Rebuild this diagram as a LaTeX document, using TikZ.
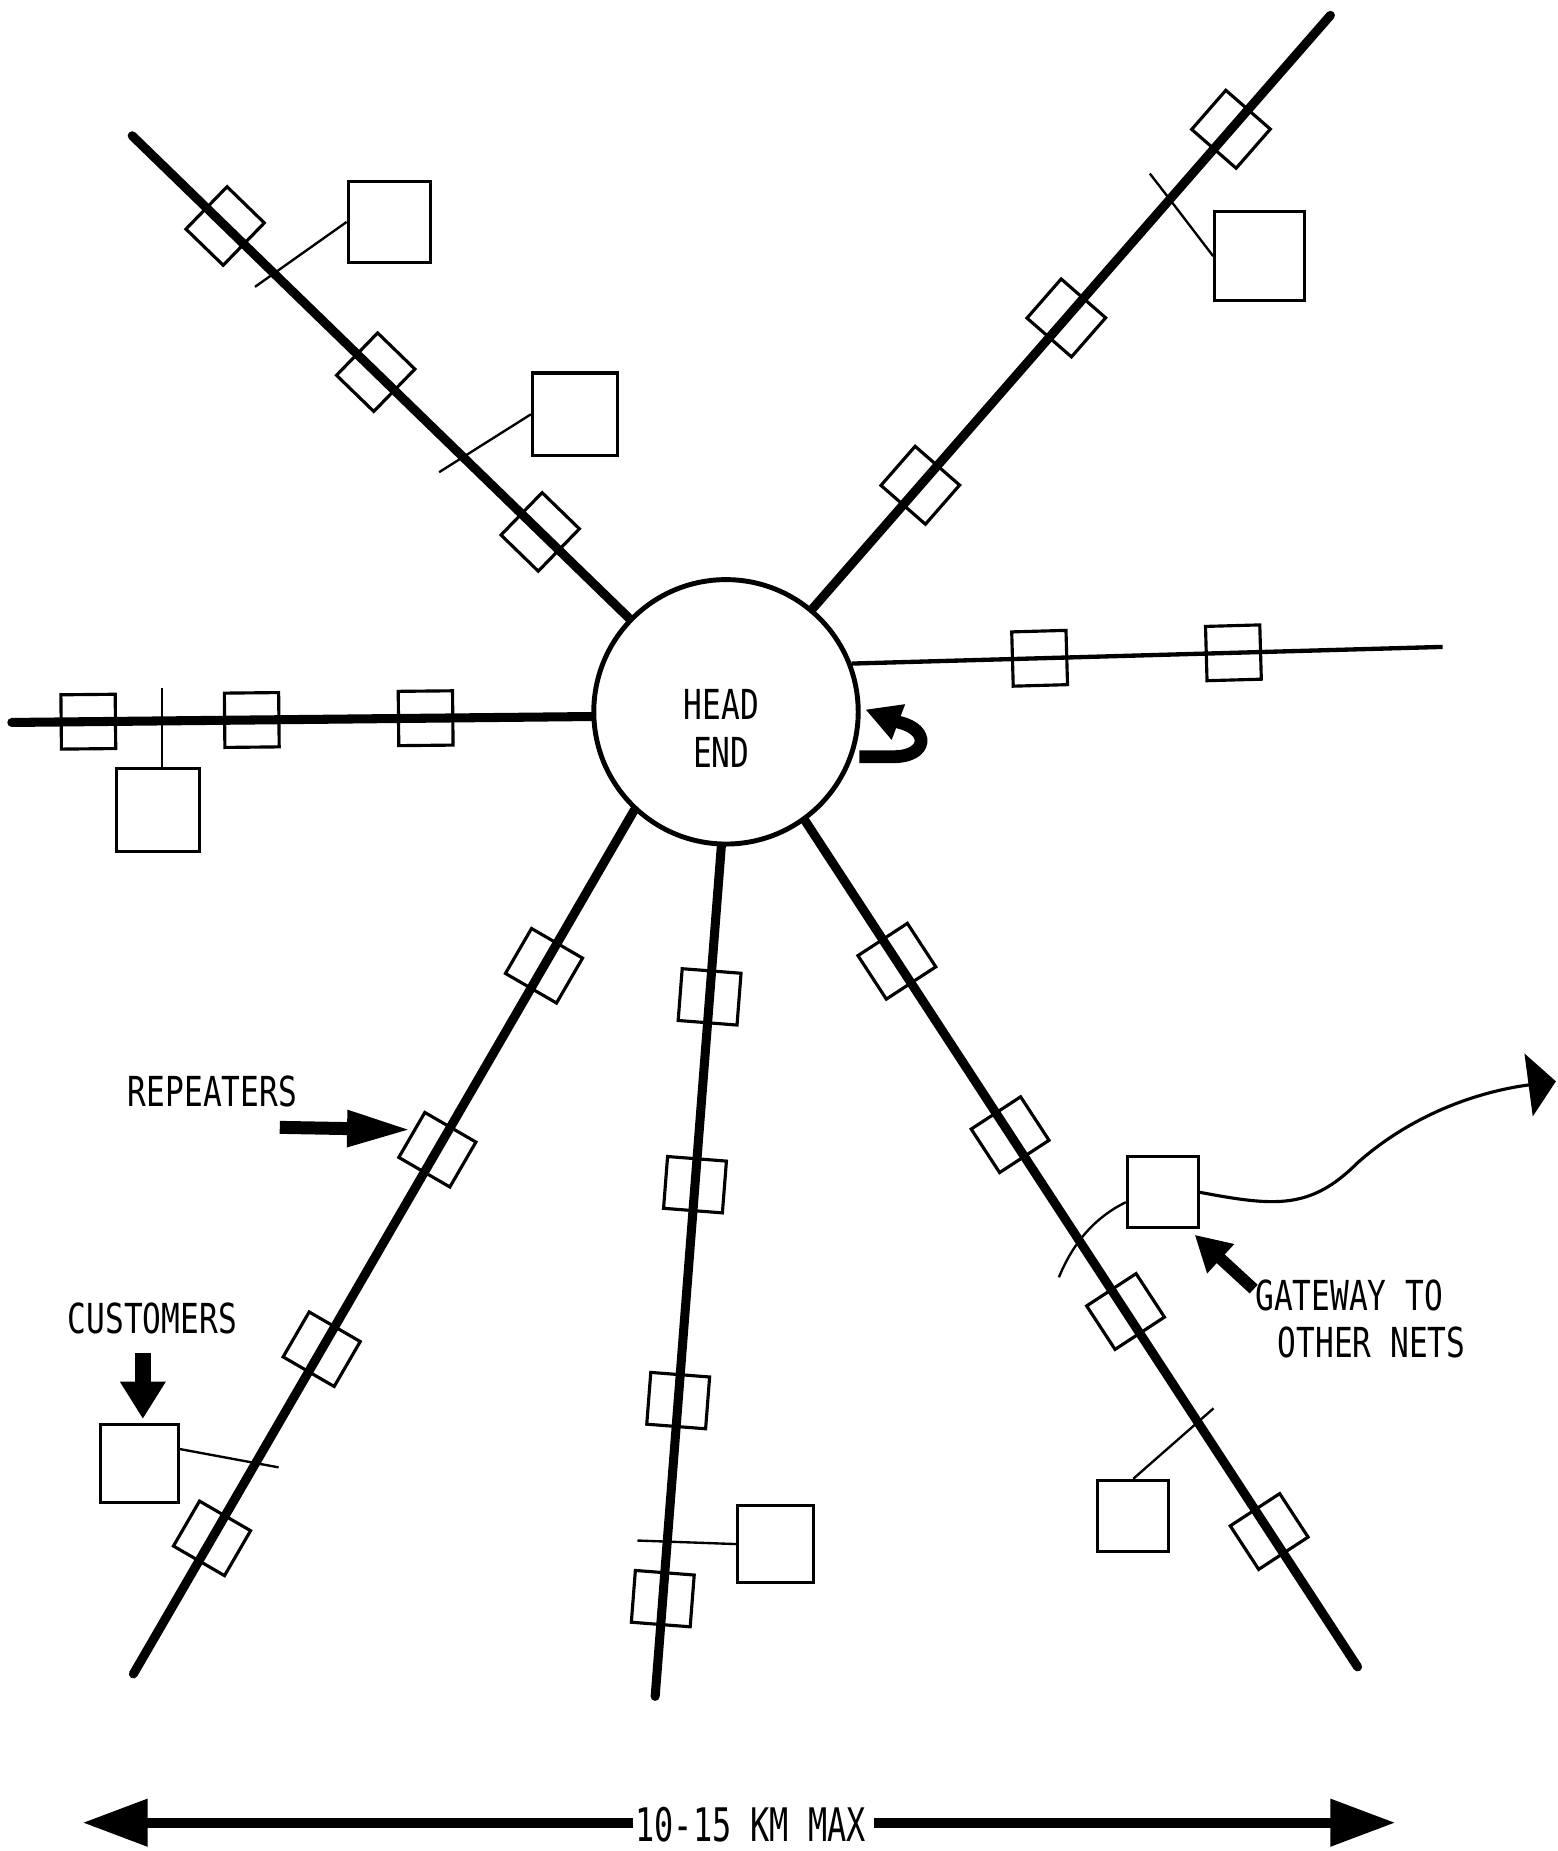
\documentclass[tikz,border=0pt]{standalone}
\usepackage{fontspec}
\usetikzlibrary{arrows.meta,calc}
\newfontfamily\lblfont[FakeStretch=0.755]{DejaVu Sans Mono}
\newfontfamily\bigfont[FakeStretch=0.69]{DejaVu Sans Mono}
\begin{document}
\begin{tikzpicture}[x=0.6pt,y=-0.6pt,
  spoke/.style={line width=4.6pt,line cap=round},
  thinspoke/.style={line width=2.2pt},
  rep/.style={draw,line width=1.6pt,rectangle,minimum width=26.4pt,minimum height=30pt,inner sep=0pt,sloped},
  hrep/.style={draw,line width=1.6pt,rectangle,minimum width=27.6pt,minimum height=27.6pt,inner sep=0pt,sloped},
  cust/.style={draw,line width=1.6pt,rectangle,inner sep=0pt},
  drop/.style={line width=1.2pt},
  lbl/.style={font=\lblfont\fontsize{21}{24.6}\selectfont,inner sep=0pt},
  kmlbl/.style={font=\bigfont\fontsize{23.5}{28}\selectfont,inner sep=0pt}
]
\useasboundingbox (0,0) rectangle (1319,1568);

% head end
\node[circle,draw,line width=2.5pt,minimum size=134.4pt,inner sep=0pt] (head) at (615,603) {};
\node[lbl,align=center] (headtxt) at (611,617) {HEAD\\END};

% outer ends of spokes
\coordinate (sUL) at (112,115);
\coordinate (sUR) at (1127,13);
\coordinate (sR) at (1222,548);
\coordinate (sL) at (10,612);
\coordinate (sLL) at (113,1418);
\coordinate (sB) at (555,1437);
\coordinate (sLR) at (1150,1412);

% spokes with repeaters
\draw[spoke] (head.136) -- (sUL)
  node[rep,pos=0.179] (r11) {}
  node[rep,pos=0.51] (r12) {}
  node[rep,pos=0.813] (r13) {};
\draw[spoke] (head.50) -- (sUR)
  node[rep,pos=0.208] (r21) {}
  node[rep,pos=0.49] (r22) {}
  node[rep,pos=0.808] (r23) {};
\draw[thinspoke] (head.21) -- (sR)
  node[hrep,pos=0.318] (r31) {}
  node[hrep,pos=0.646] (r32) {};
\draw[spoke] (head.182) -- (sL)
  node[hrep,pos=0.286] (r41) {}
  node[hrep,pos=0.586] (r42) {}
  node[hrep,pos=0.868] (r43) {};
\draw[spoke] (head.227) -- (sLL)
  node[rep,pos=0.18] (r51) {}
  node[rep,pos=0.393] (r52) {}
  node[rep,pos=0.624] (r53) {}
  node[rep,pos=0.843] (r54) {};
\draw[spoke] (head.268) -- (sB)
  node[rep,pos=0.177] (r61) {}
  node[rep,pos=0.398] (r62) {}
  node[rep,pos=0.652] (r63) {}
  node[rep,pos=0.885] (r64) {};
\draw[spoke] (head.306) -- (sLR)
  node[rep,pos=0.166] (r71) {}
  node[rep,pos=0.371] (r72) {}
  node[rep,pos=0.58] (r73) {}
  node[rep,pos=0.84] (r74) {};

% customer boxes
\node[cust,minimum width=42pt,minimum height=41.4pt] (c1) at (330,188) {};
\node[cust,minimum width=43.2pt,minimum height=42pt] (c2) at (487,351) {};
\node[cust,minimum width=45.6pt,minimum height=45pt] (c3) at (1067,217) {};
\node[cust,minimum width=42pt,minimum height=42pt] (c4) at (134,686) {};
\node[cust,minimum width=39.6pt,minimum height=39.6pt] (c5) at (118,1240) {};
\node[cust,minimum width=38.4pt,minimum height=39pt] (c6) at (657,1308) {};
\node[cust,minimum width=36pt,minimum height=36pt] (gw) at (985,1010) {};
\node[cust,minimum width=36pt,minimum height=36pt] (c7) at (960,1284) {};

% drops
\coordinate (t1) at (216,243);
\coordinate (t2) at (372,400);
\coordinate (t3) at (974,147);
\coordinate (t3b) at (991,169);
\coordinate (t4) at (137,583);
\coordinate (t5) at (236,1243);
\coordinate (t6) at (540,1305);
\coordinate (tg) at (897,1082);
\coordinate (t7) at (1028,1193);
\draw[drop] (t1) -- (c1.west);
\draw[drop] (t2) -- (c2.west);
\draw[drop] (t3) -- (t3b) -- (c3.west);
\draw[drop] (t4) -- (t4 |- c4.north);
\draw[drop] (c5.20) -- (t5);
\draw[drop] (t6) -- (c6.west);
\draw[drop] (tg) .. controls (910,1050) and (930,1030) .. (gw.195);
\draw[drop] (c7.north) -- (t7);

% gateway link
\coordinate (gwend) at (1318,916);
\draw[line width=1.6pt,-{Triangle[length=14pt,width=32pt]}] (gw.east) .. controls (1080,1022) and (1110,1025) .. (1150,985) .. controls (1195,945) and (1250,925) .. (gwend);

% head-end loop arrow
\coordinate (u0) at (728,641);
\coordinate (u1) at (733,601);
\draw[line width=6.5pt,-{Triangle[length=18pt,width=18pt]}] (u0) -- (757,641) .. controls (786,641) and (788,618) .. (762,612) -- (u1);

% labels
\node[lbl] (replbl) at (180,925) {REPEATERS};
\node[lbl] (custlbl) at (129,1117) {CUSTOMERS};
\node[lbl,anchor=west] (gwl1) at (1063,1097) {GATEWAY TO};
\node[lbl,anchor=west] (gwl2) at (1082,1137) {OTHER NETS};
\node[kmlbl] (km) at (636,1546) {10-15 KM MAX};

% label arrows
\coordinate (ra0) at (237,955);
\coordinate (ra1) at (349,957);
\draw[line width=6.6pt,-{Triangle[length=33pt,width=17pt]}] (ra0) -- (ra1);
\coordinate (ca0) at (121,1146);
\coordinate (ca1) at (121,1202);
\draw[line width=8pt,-{Triangle[length=19pt,width=22pt]}] (ca0) -- (ca1);
\coordinate (ga0) at (1062,1092);
\coordinate (ga1) at (1012,1046);
\draw[line width=6pt,-{Triangle[length=18pt,width=19pt]}] (ga0) -- (ga1);

% scale arrow
\coordinate (kl) at (70,1544);
\coordinate (kr) at (1182,1544);
\draw[line width=5pt,-{Triangle[length=33pt,width=23pt]}] ([xshift=-1pt]km.west |- kl) -- (kl);
\draw[line width=5pt,-{Triangle[length=33pt,width=23pt]}] ([xshift=4pt]km.east |- kr) -- (kr);
\end{tikzpicture}
\end{document}
